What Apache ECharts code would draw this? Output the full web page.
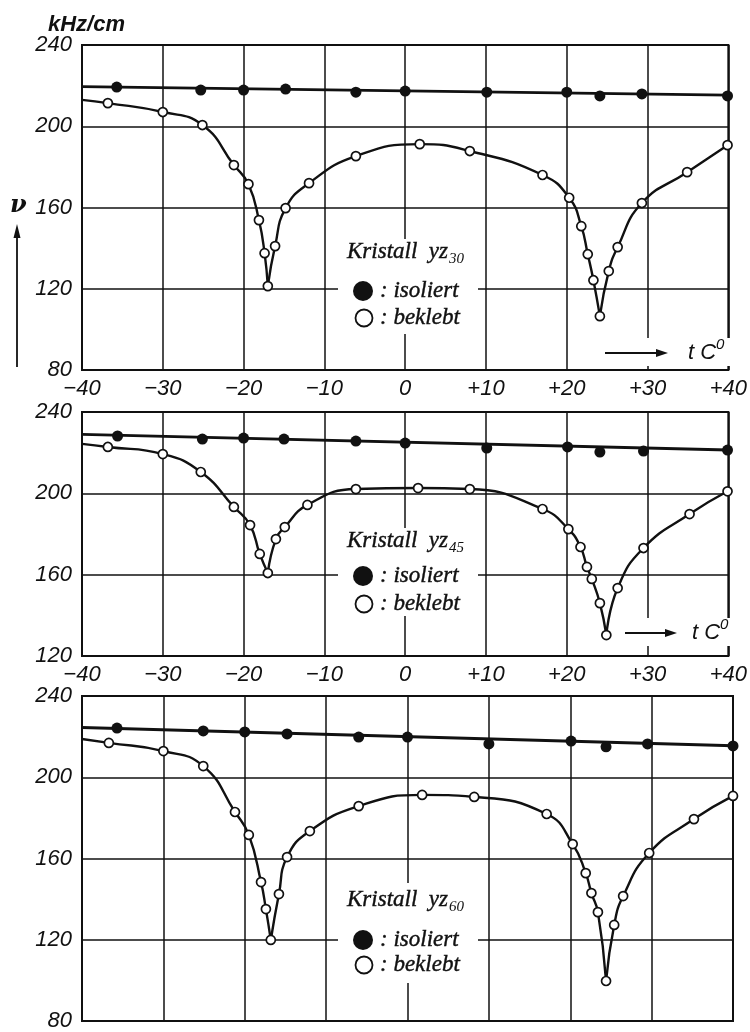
<!DOCTYPE html>
<html><head><meta charset="utf-8">
<script src="https://cdn.jsdelivr.net/npm/echarts@6/dist/echarts.min.js"></script>
<style>html,body{margin:0;padding:0;background:#fff}#c{width:750px;height:1032px}</style>
</head><body><div id="c"></div><script>
// ---- data ----
const xTickLabels = ['\u221240','\u221230','\u221220','\u221210','0','+10','+20','+30','+40'];
const crystalSubs = ['30', '45', '60'];

// Kristall yz30
const iso1 = [[-35.7,219.3],[-25.3,217.8],[-20,217.8],[-14.8,218.3],[-6.1,216.8],[0,217.3],[10.1,216.8],[20,216.8],[24.1,214.9],[29.3,215.9],[39.9,214.9]];
const isoFit1 = [[-40,219.5],[40,215.3]];
const bek1 = [[-36.8,211.4],[-30,207],[-25.1,200.6],[-21.2,180.9],[-19.4,171.5],[-18.1,153.8],[-17.4,137.5],[-17.0,121.3],[-16.1,141],[-14.8,159.7],[-11.9,172],[-6.1,185.3],[1.8,191.2],[8.0,187.8],[17.0,176],[20.3,164.8],[21.8,150.8],[22.6,137],[23.3,124.2],[24.1,106.5],[25.2,128.7],[26.3,140.5],[29.3,162.2],[34.9,177.4],[39.9,190.7]];
const bekEdge1 = [-40,213];

// Kristall yz45
const iso2 = [[-35.6,228.2],[-25.1,226.7],[-20,227.2],[-15,226.7],[-6.1,225.7],[0,224.7],[10.1,222.3],[20.1,222.8],[24.1,220.3],[29.5,220.8],[39.9,221.3]];
const isoFit2 = [[-40,229],[40,221.3]];
const bek2 = [[-36.8,222.8],[-30,219.3],[-25.3,210.5],[-21.2,193.3],[-19.2,184.4],[-18.0,170.2],[-17.0,160.8],[-16.0,177.5],[-14.9,183.4],[-12.1,194.3],[-6.1,202.1],[1.6,202.6],[8.0,202.1],[17.0,192.3],[20.2,182.4],[21.7,173.6],[22.5,163.8],[23.1,157.9],[24.1,146],[24.9,130.3],[26.3,153.4],[29.5,173.1],[35.2,189.8],[39.9,201]];
const bekEdge2 = [-40,224.3];

// Kristall yz60
const iso3 = [[-35.7,224.2],[-25.1,222.8],[-20,222.3],[-14.8,221.3],[-6.0,219.8],[0,219.8],[10,216.4],[20.1,217.8],[24.4,215],[29.5,216.4],[40,215.4]];
const isoFit3 = [[-40,224.5],[40,215.5]];
const bek3 = [[-36.7,216.9],[-30,212.9],[-25.1,205.5],[-21.2,182.9],[-19.5,171.6],[-18,148.4],[-17.4,135.1],[-16.8,119.9],[-15.8,142.5],[-14.8,160.7],[-12.0,173.5],[-6.0,185.8],[1.8,191.3],[8.2,190.3],[17.1,181.9],[20.3,167.1],[21.9,152.8],[22.6,143],[23.4,133.6],[24.4,99.7],[25.4,127.3],[26.5,141.5],[29.7,162.7],[35.2,179.4],[40,190.8]];
const bekEdge3 = [-40,218.8];

const panels = [
  {iso: iso1, fit: isoFit1, bek: bek1, edge: bekEdge1, ymin: 80, ymax: 240},
  {iso: iso2, fit: isoFit2, bek: bek2, edge: bekEdge2, ymin: 120, ymax: 240},
  {iso: iso3, fit: isoFit3, bek: bek3, edge: bekEdge3, ymin: 80, ymax: 240}
];

// ---- layout ----
const INK = '#111';
const gridsPx = [
  {left: 82, top: 45, width: 651, height: 325},
  {left: 82, top: 412, width: 651, height: 244},
  {left: 82, top: 696, width: 651, height: 325}
];
const labelFont = {fontFamily: '"Liberation Sans", Arial, sans-serif', fontStyle: 'italic', fontSize: 22, color: INK};

function segments(edge, pts) {
  const all = [edge].concat(pts);
  let iL = -1, iR = -1;
  all.forEach((p, i) => {
    if (p[0] < 0 && (iL < 0 || p[1] < all[iL][1])) iL = i;
    if (p[0] > 0 && (iR < 0 || p[1] < all[iR][1])) iR = i;
  });
  return [all.slice(0, iL + 1), all.slice(iL, iR + 1), all.slice(iR)];
}

const grid = [], xAxis = [], yAxis = [], series = [];
panels.forEach((p, i) => {
  grid.push(Object.assign({show: true, borderColor: INK, borderWidth: 2, backgroundColor: 'transparent'}, gridsPx[i]));
  xAxis.push({
    type: 'value', gridIndex: i, min: -40, max: 40, interval: 10,
    axisLine: {show: false}, axisTick: {show: false},
    axisLabel: Object.assign({show: i < 2, margin: 8,
      formatter: v => xTickLabels[Math.round((v + 40) / 10)]}, labelFont),
    splitLine: {show: true, lineStyle: {color: INK, width: 1.5}}
  });
  yAxis.push({
    type: 'value', gridIndex: i, min: p.ymin, max: p.ymax, interval: 40,
    axisLine: {show: false}, axisTick: {show: false},
    axisLabel: Object.assign({margin: 10}, labelFont),
    splitLine: {show: true, lineStyle: {color: INK, width: 1.5}}
  });
  series.push({type: 'line', xAxisIndex: i, yAxisIndex: i, data: p.fit, symbol: 'none',
    lineStyle: {color: INK, width: 2.8}, z: 3, silent: true});
  segments(p.edge, p.bek).forEach(seg => {
    series.push({type: 'line', xAxisIndex: i, yAxisIndex: i, data: seg, symbol: 'none',
      smooth: 0.5, lineStyle: {color: INK, width: 2.4}, z: 3, silent: true});
  });
  series.push({type: 'scatter', xAxisIndex: i, yAxisIndex: i, data: p.iso, symbol: 'circle', symbolSize: 11,
    itemStyle: {color: INK, opacity: 1}, z: 5});
  series.push({type: 'scatter', xAxisIndex: i, yAxisIndex: i, data: p.bek, symbol: 'circle', symbolSize: 9,
    itemStyle: {color: '#fff', borderColor: INK, borderWidth: 1.7, opacity: 1}, z: 6});
});

// ---- annotations ----
const ctx = document.createElement('canvas').getContext('2d');
const legFont = 'italic 23px "Liberation Serif", serif';
ctx.font = legFont;
const kw = ctx.measureText('Kristall  yz').width;
const legTextStyle = {font: legFont, fill: INK, textVerticalAlign: 'middle', stroke: INK, lineWidth: 0.4};
const legendPos = [
  {rect: [338, 239, 140, 95], k: 252, a: 291, b: 318},
  {rect: [338, 528, 140, 88], k: 541, a: 576, b: 604},
  {rect: [338, 883, 140, 100], k: 900, a: 940, b: 965}
];
const graphic = [];
legendPos.forEach((L, i) => {
  graphic.push({type: 'rect', shape: {x: L.rect[0], y: L.rect[1], width: L.rect[2], height: L.rect[3]},
    style: {fill: '#fff'}, z: 1});
  graphic.push({type: 'text', x: 347, y: L.k, style: Object.assign({text: 'Kristall  yz'}, legTextStyle), z: 10});
  graphic.push({type: 'text', x: 347 + kw + 1, y: L.k + 7,
    style: {text: crystalSubs[i], font: 'italic 15px "Liberation Serif", serif', fill: INK, textVerticalAlign: 'middle'}, z: 10});
  graphic.push({type: 'circle', shape: {cx: 363, cy: L.a, r: 10}, style: {fill: INK}, z: 10});
  graphic.push({type: 'text', x: 380, y: L.a, style: Object.assign({text: ': isoliert'}, legTextStyle), z: 10});
  graphic.push({type: 'circle', shape: {cx: 364, cy: L.b, r: 8.5}, style: {fill: '#fff', stroke: INK, lineWidth: 1.8}, z: 10});
  graphic.push({type: 'text', x: 380, y: L.b, style: Object.assign({text: ': beklebt'}, legTextStyle), z: 10});
});
// t C0 arrows
[{y: 353, x0: 605, x1: 668, tx: 688}, {y: 633, x0: 625, x1: 677, tx: 692}].forEach(A => {
  graphic.push({type: 'rect', shape: {x: A.x0 - 6, y: A.y - 15, width: 730 - A.x0 + 6, height: 28}, style: {fill: '#fff'}, z: 1});
  graphic.push({type: 'line', shape: {x1: A.x0, y1: A.y, x2: A.x1 - 6, y2: A.y}, style: {stroke: INK, lineWidth: 2}, z: 10});
  graphic.push({type: 'polygon', shape: {points: [[A.x1, A.y], [A.x1 - 12, A.y - 4], [A.x1 - 12, A.y + 4]]}, style: {fill: INK}, z: 10});
  graphic.push({type: 'text', x: A.tx, y: A.y, style: {text: 't C', font: 'italic 22px "Liberation Sans", sans-serif', fill: INK, textVerticalAlign: 'middle'}, z: 10});
  graphic.push({type: 'text', x: A.tx + 28, y: A.y - 8, style: {text: '0', font: 'italic 15px "Liberation Sans", sans-serif', fill: INK, textVerticalAlign: 'middle'}, z: 10});
});
// y axis title
graphic.push({type: 'text', x: 48, y: 25, style: {text: 'kHz/cm', font: 'bold italic 22px "Liberation Sans", sans-serif', fill: INK, textVerticalAlign: 'middle'}, z: 10});
graphic.push({type: 'text', x: 10, y: 206, style: {text: '\u03bd', font: 'bold italic 24px "DejaVu Serif", serif', fill: INK, textVerticalAlign: 'middle'}, z: 10});
graphic.push({type: 'line', shape: {x1: 17, y1: 367, x2: 17, y2: 236}, style: {stroke: INK, lineWidth: 1.8}, z: 10});
graphic.push({type: 'polygon', shape: {points: [[17, 224], [13.5, 238], [20.5, 238]]}, style: {fill: INK}, z: 10});

const chart = echarts.init(document.getElementById('c'), null, {renderer: 'canvas'});
chart.setOption({backgroundColor: '#fff', animation: false, grid, xAxis, yAxis, series, graphic});
</script></body></html>
